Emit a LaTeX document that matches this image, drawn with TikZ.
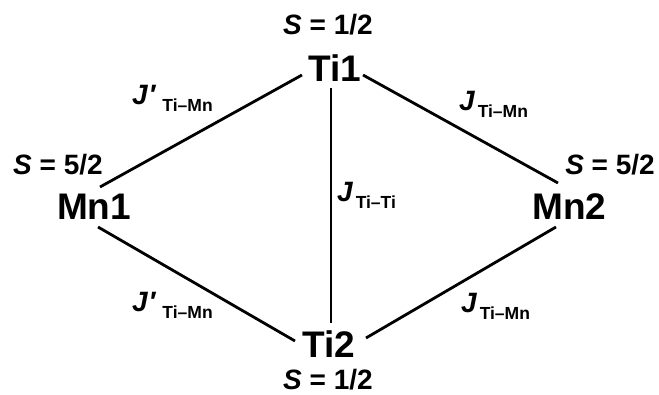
\documentclass[tikz,border=0pt]{standalone}
\usepackage{fontspec}
\setmainfont{Liberation Sans}
\usetikzlibrary{calc}
\begin{document}
\begin{tikzpicture}[x=1pt,y=-1pt,
  atom/.style={font=\fontsize{37}{37}\selectfont\bfseries, inner sep=0pt, anchor=base},
  spin/.style={font=\fontsize{28}{28}\selectfont\bfseries, inner sep=0pt, anchor=base},
  coup/.style={font=\fontsize{28}{28}\selectfont\bfseries, inner sep=0pt, anchor=base west},
  bond/.style={line width=2.8pt}]
\newcommand{\subtxt}[1]{\raisebox{-6.5pt}{\fontsize{17.5}{17.5}\selectfont #1}}
\newcommand{\jprime}{\textit{J\hspace{1pt}\symbol{"2032}}}
\useasboundingbox (0,0) rectangle (659,395);
% atoms
\node[atom] (Ti1) at (335,82) {Ti1};
\node[atom] (Ti2) at (329,358) {Ti2};
\node[atom] (Mn1) at (94,220) {Mn1};
\node[atom] (Mn2) at (569.5,220) {Mn2};
% spins
\node[spin] (s1) at (328,35) {\textit{S} = 1/2};
\node[spin] (s2) at (328,389.5) {\textit{S} = 1/2};
\node[spin] (s3) at (58,175) {\textit{S} = 5/2};
\node[spin] (s4) at (610,175) {\textit{S} = 5/2};
% bonds
\draw[bond] ($(Ti1.base)+(-33,-7)$) -- ($(Mn1.base)+(6,-33)$);
\draw[bond] ($(Ti1.base)+(28,-7)$) -- ($(Mn2.base)+(-11.5,-37)$);
\draw[bond] ($(Mn1.base)+(4,7)$) -- ($(Ti2.base)+(-34,-17)$);
\draw[bond] ($(Ti2.base)+(37,-20)$) -- ($(Mn2.base)+(-13.5,7)$);
\draw[bond] ($(Ti1.base)+(-4,6)$) -- ($(Ti2.base)+(2,-35)$);
% couplings
\node[coup] (j1) at (132,105) {\jprime\hspace{6pt}\subtxt{Ti–Mn}};
\node[coup] (j2) at (459,111) {\textit{J}\hspace{2.5pt}\subtxt{Ti–Mn}};
\node[coup] (j3) at (337,202) {\textit{J}\hspace{2.5pt}\subtxt{Ti–Ti}};
\node[coup] (j4) at (132,312) {\jprime\hspace{6pt}\subtxt{Ti–Mn}};
\node[coup] (j5) at (461,313) {\textit{J}\hspace{2.5pt}\subtxt{Ti–Mn}};
\end{tikzpicture}
\end{document}
